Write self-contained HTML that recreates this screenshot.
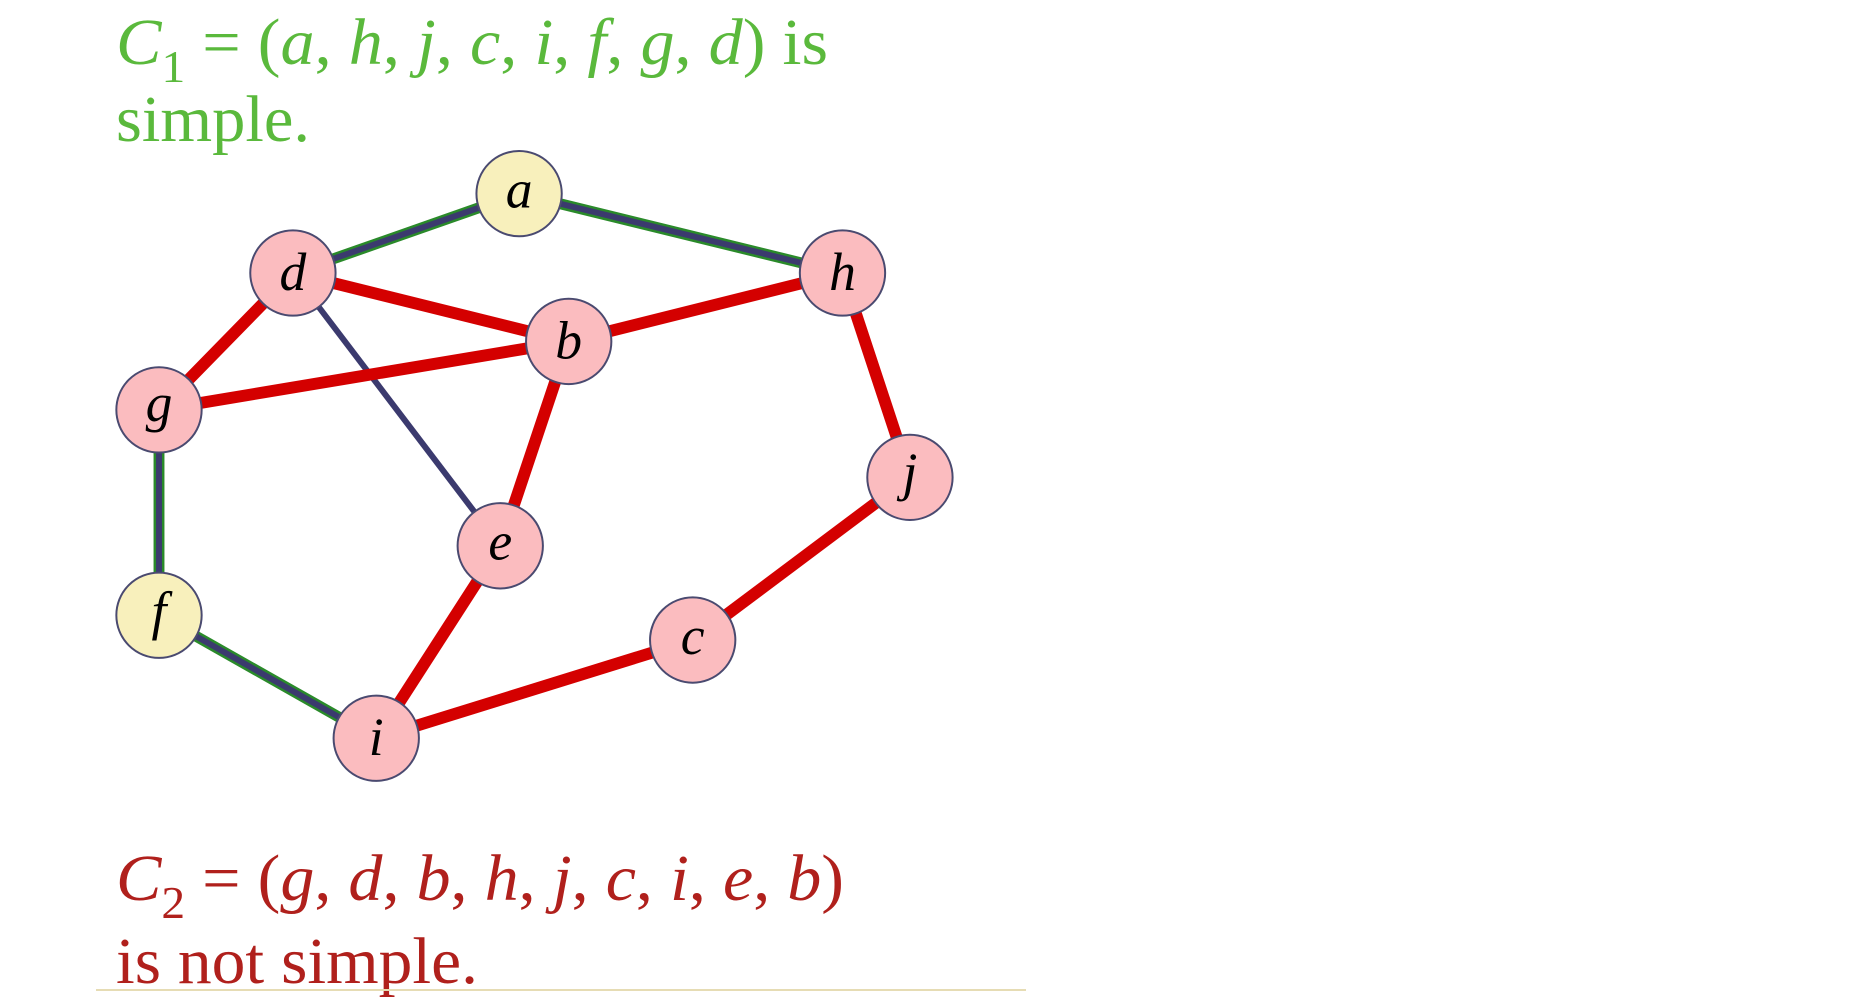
<!DOCTYPE html>
<html><head><style>
html,body{margin:0;padding:0;background:#fff;}
svg{display:block;}
</style></head><body>
<svg width="1871" height="1000" viewBox="0 0 1871 1000" xmlns="http://www.w3.org/2000/svg" font-family="Liberation Serif, serif">
<g font-size="66" fill="#5ab93c">
<text x="116" y="64" textLength="712" lengthAdjust="spacingAndGlyphs"><tspan font-style="italic">C</tspan><tspan font-size="46" dy="18">1</tspan><tspan dy="-18"> = (</tspan><tspan font-style="italic">a</tspan>, <tspan font-style="italic">h</tspan>, <tspan font-style="italic">j</tspan>, <tspan font-style="italic">c</tspan>, <tspan font-style="italic">i</tspan>, <tspan font-style="italic">f</tspan>, <tspan font-style="italic">g</tspan>, <tspan font-style="italic">d</tspan>) is</text>
<text x="116" y="141" textLength="194" lengthAdjust="spacingAndGlyphs">simple.</text>
</g>
<g font-size="66" fill="#b0201c">
<text x="116" y="900" textLength="728" lengthAdjust="spacingAndGlyphs"><tspan font-style="italic">C</tspan><tspan font-size="46" dy="18">2</tspan><tspan dy="-18"> = (</tspan><tspan font-style="italic">g</tspan>, <tspan font-style="italic">d</tspan>, <tspan font-style="italic">b</tspan>, <tspan font-style="italic">h</tspan>, <tspan font-style="italic">j</tspan>, <tspan font-style="italic">c</tspan>, <tspan font-style="italic">i</tspan>, <tspan font-style="italic">e</tspan>, <tspan font-style="italic">b</tspan>)</text>
<text x="116" y="983" textLength="362" lengthAdjust="spacingAndGlyphs">is not simple.</text>
</g>
<line x1="96" y1="990" x2="1026" y2="990" stroke="#e6dcb4" stroke-width="2"/>
<g transform="translate(159 273) scale(0.992) translate(-159 -273)">
<g stroke-linecap="butt">
<g stroke="#2a8a2a" stroke-width="11">
<line x1="522" y1="193" x2="294" y2="273"/><line x1="522" y1="193" x2="848" y2="273"/>
<line x1="159" y1="411" x2="159" y2="618"/><line x1="159" y1="618" x2="378" y2="742"/>
</g>
<g stroke="#3b3a6e" stroke-width="6">
<line x1="522" y1="193" x2="294" y2="273"/><line x1="522" y1="193" x2="848" y2="273"/>
<line x1="159" y1="411" x2="159" y2="618"/><line x1="159" y1="618" x2="378" y2="742"/>
<line x1="294" y1="273" x2="503" y2="548"/>
</g>
<g stroke="#d40000" stroke-width="12">
<line x1="294" y1="273" x2="159" y2="411"/><line x1="294" y1="273" x2="572" y2="342"/>
<line x1="159" y1="411" x2="572" y2="342"/><line x1="572" y1="342" x2="848" y2="273"/>
<line x1="848" y1="273" x2="916" y2="479"/><line x1="916" y1="479" x2="697" y2="643"/>
<line x1="697" y1="643" x2="378" y2="742"/><line x1="378" y1="742" x2="503" y2="548"/>
<line x1="503" y1="548" x2="572" y2="342"/>
</g>
</g>
<g stroke="#4a4a70" stroke-width="2">
<circle cx="522" cy="193" r="43" fill="#f8f0bc"/>
<circle cx="159" cy="618" r="43" fill="#f8f0bc"/>
<circle cx="294" cy="273" r="43" fill="#fbbcbf"/>
<circle cx="848" cy="273" r="43" fill="#fbbcbf"/>
<circle cx="572" cy="342" r="43" fill="#fbbcbf"/>
<circle cx="159" cy="411" r="43" fill="#fbbcbf"/>
<circle cx="916" cy="479" r="43" fill="#fbbcbf"/>
<circle cx="503" cy="548" r="43" fill="#fbbcbf"/>
<circle cx="697" cy="643" r="43" fill="#fbbcbf"/>
<circle cx="378" cy="742" r="43" fill="#fbbcbf"/>
</g>
<g font-size="54" font-style="italic" fill="#000" text-anchor="middle">
<text x="522" y="207">a</text><text x="294" y="290">d</text><text x="848" y="290">h</text>
<text x="572" y="359">b</text><text x="159" y="422">g</text><text x="916" y="492">j</text>
<text x="503" y="562">e</text><text x="159" y="632">f</text><text x="697" y="657">c</text>
<text x="378" y="759">i</text>
</g>
</g>
</svg>
</body></html>
